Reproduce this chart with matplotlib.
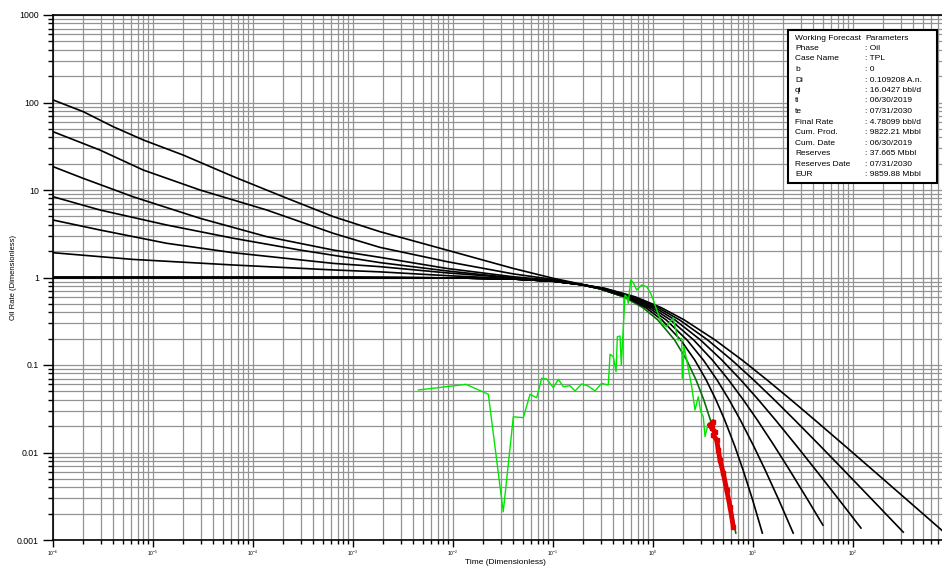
import matplotlib
matplotlib.use("Agg")
import matplotlib.pyplot as plt
from matplotlib.ticker import FixedLocator, LogLocator, FuncFormatter, NullFormatter, LogFormatterSciNotation
from matplotlib.patches import Rectangle

plt.rcParams['font.family'] = ['Liberation Sans', 'DejaVu Sans']

# ---- transient stems (t_D, q_D) ----
stem1_t = [1e-6, 2.01e-6, 4.0e-6, 8.0e-6, 2.0e-5, 6.4e-5, 2.0e-4, 6.4e-4, 1.86e-3, 8.65e-3, 0.040, 0.10, 0.186, 0.295, 0.468]
stem1_q = [107, 78.5, 52.9, 37.3, 25.1, 14.2, 8.38, 4.95, 3.34, 2.06, 1.27, 0.98, 0.845, 0.745, 0.626]
stem2_t = [1e-6, 2.95e-6, 8.0e-6, 2.95e-5, 1.37e-4, 6.35e-4, 1.86e-3, 8.65e-3, 0.040, 0.10, 0.186, 0.295, 0.468]
stem2_q = [46.4, 28.6, 16.9, 10.0, 5.91, 3.20, 2.21, 1.52, 1.10, 0.95, 0.84, 0.745, 0.626]
stem3_t = [1e-6, 2.0e-6, 6.3e-6, 2.95e-5, 1.37e-4, 6.35e-4, 1.86e-3, 8.65e-3, 0.040, 0.10, 0.186, 0.295, 0.468]
stem3_q = [18.5, 13.6, 8.38, 4.75, 2.93, 2.06, 1.70, 1.27, 1.02, 0.93, 0.835, 0.745, 0.626]
stem4_t = [1e-6, 2.95e-6, 1.37e-5, 6.35e-5, 2.95e-4, 1.86e-3, 8.65e-3, 0.040, 0.10, 0.186, 0.295, 0.468]
stem4_q = [8.38, 5.91, 3.98, 2.81, 2.06, 1.48, 1.19, 0.99, 0.92, 0.832, 0.745, 0.626]
stem5_t = [1e-6, 2.95e-6, 1.37e-5, 6.35e-5, 6.35e-4, 1.86e-3, 8.65e-3, 0.040, 0.10, 0.186, 0.295, 0.468]
stem5_q = [4.54, 3.49, 2.46, 1.92, 1.45, 1.33, 1.13, 0.99, 0.915, 0.83, 0.745, 0.626]
stem6_t = [1e-6, 6.3e-6, 6.35e-5, 6.35e-4, 1.86e-3, 8.65e-3, 0.040, 0.10, 0.186, 0.295, 0.468]
stem6_q = [1.92, 1.61, 1.39, 1.22, 1.16, 1.05, 0.97, 0.91, 0.83, 0.745, 0.626]

# ---- depletion curves: shared early part, then rate levels read per curve ----
trunk_t = [1e-6, 1e-3, 0.01, 0.04, 0.10, 0.20]
trunk_q = [1.0, 0.999, 0.99, 0.961, 0.907, 0.825]
fan_levels = [0.75, 0.6, 0.45, 0.327, 0.193, 0.114, 0.0674, 0.04, 0.0235, 0.012, 0.0063, 0.00286]
fan_t = [
    [0.288, 0.511, 0.799, 1.118, 1.645, 2.171, 2.697, 3.219, 3.751, 4.423, 5.067, 5.857, 6.725],
    [0.295, 0.533, 0.855, 1.229, 1.893, 2.615, 3.406, 4.261, 5.212, 6.541, 7.961, 9.926, 12.40],
    [0.302, 0.557, 0.915, 1.355, 2.191, 3.186, 4.371, 5.772, 7.475, 10.10, 13.24, 18.14, 25.23],
    [0.309, 0.582, 0.981, 1.497, 2.553, 3.923, 5.704, 8.000, 11.05, 16.26, 23.20, 35.40, 49.99],
    [0.317, 0.609, 1.055, 1.661, 2.991, 4.878, 7.556, 11.33, 16.79, 27.12, 42.47, 72.96, 120.1],
    [0.325, 0.637, 1.135, 1.847, 3.526, 6.127, 10.16, 16.35, 26.14, 46.66, 80.63, 156.9, 318.1],
    [0.333, 0.667, 1.222, 2.058, 4.181, 7.772, 13.84, 24.00, 41.55, 82.33, 157.7, 348.7, 729.0, 999.0],
]
fan_end_q = [[0.0012], [0.0012], [0.0012], [0.00148], [0.00137], [0.00123], [0.00137, 0.001]]
fan_colors = ['#0a6e0a', 'black', 'black', 'black', 'black', 'black', 'black']

# ---- production data (green) ----
prod_t = [4.50e-3, 0.0135, 0.02255, 0.0318, 0.0401, 0.0505, 0.0589, 0.0687, 0.0771, 0.0865,
          0.1007, 0.113, 0.1268, 0.148, 0.166, 0.1936, 0.2255, 0.263, 0.307, 0.357,
          0.372, 0.401, 0.427, 0.44, 0.468, 0.482, 0.525, 0.546, 0.566, 0.598,
          0.635, 0.687, 0.771, 0.865, 0.948, 1.007, 1.089, 1.222, 1.371, 1.479,
          1.596, 1.66, 1.791, 1.936, 1.963, 2.042, 2.173, 2.438, 2.63, 2.838,
          3.0, 3.184, 3.31, 3.573, 3.864]
prod_q = [0.0518, 0.0601, 0.0463, 0.0021, 0.0256, 0.0250, 0.0463, 0.0423, 0.0705, 0.0692,
          0.0551, 0.0687, 0.0565, 0.058, 0.0505, 0.0607, 0.0575, 0.0505, 0.0618, 0.059,
          0.1325, 0.1245, 0.0838, 0.2105, 0.2145, 0.1, 0.631, 0.604, 0.507, 0.936,
          0.873, 0.72, 0.821, 0.785, 0.66, 0.553, 0.425, 0.30, 0.274, 0.3125,
          0.342, 0.274, 0.193, 0.2018, 0.0705, 0.162, 0.114, 0.0565, 0.0306, 0.0434,
          0.0292, 0.0256, 0.0152, 0.0216, 0.0181]

# ---- forecast data (red) ----
fc_t = [3.715, 4.009, 3.864, 4.169, 4.009, 4.335, 4.498, 4.677, 5.047, 5.458, 5.888, 6.353]
fc_q = [0.0206, 0.0225, 0.0189, 0.0173, 0.0158, 0.0139, 0.0107, 0.0082, 0.00578, 0.00373, 0.0024, 0.00142]

# ---- axis ticks ----
x_major = [1e-6, 1e-5, 1e-4, 1e-3, 1e-2, 1e-1, 1e0, 1e1, 1e2]
y_major = [1e-3, 1e-2, 1e-1, 1e0, 1e1, 1e2, 1e3]

# ---- parameter box ----
param_names = ["Working Forecast", "Phase", "Case Name", "b", "Di", "qi", "ti", "te",
               "Final Rate", "Cum. Prod.", "Cum. Date", "Reserves", "Reserves Date", "EUR"]
param_values = ["Parameters", ": Oil", ": TPL", ": 0", ": 0.109208 A.n.", ": 16.0427 bbl/d",
                ": 06/30/2019", ": 07/31/2030", ": 4.78099 bbl/d", ": 9822.21 Mbbl",
                ": 06/30/2019", ": 37.665 Mbbl", ": 07/31/2030", ": 9859.88 Mbbl"]

fig = plt.figure(figsize=(9.42, 5.68), dpi=100)
ax = fig.add_axes([53/942, 28/568, 900/942, 525/568])
ax.set_xscale('log')
ax.set_yscale('log')
ax.set_xlim(1e-6, 1e3)
ax.set_ylim(1e-3, 1e3)

ax.xaxis.set_major_locator(FixedLocator(x_major))
ax.xaxis.set_minor_locator(LogLocator(base=10, subs=range(2, 10), numticks=20))
ax.yaxis.set_major_locator(FixedLocator(y_major))
ax.yaxis.set_minor_locator(LogLocator(base=10, subs=range(2, 10), numticks=20))
ax.yaxis.set_major_formatter(FuncFormatter(lambda v, p: f"{v:g}"))
ax.yaxis.set_minor_formatter(NullFormatter())
ax.xaxis.set_major_formatter(LogFormatterSciNotation())
ax.xaxis.set_minor_formatter(NullFormatter())

ax.grid(True, which='both', color='#939393', linewidth=0.9)
ax.set_axisbelow(True)

ax.tick_params(axis='y', which='major', direction='out', length=7.2, width=1, labelsize=6.3, pad=2.8)
ax.tick_params(axis='y', which='minor', direction='out', length=3.6, width=1)
ax.tick_params(axis='x', which='major', direction='out', length=5, width=1, labelsize=3.5, pad=1.5)
ax.tick_params(axis='x', which='minor', direction='out', length=3, width=1)
for s in ax.spines.values():
    s.set_linewidth(1.2)

for st, sq in [(stem1_t, stem1_q), (stem2_t, stem2_q), (stem3_t, stem3_q),
               (stem4_t, stem4_q), (stem5_t, stem5_q), (stem6_t, stem6_q)]:
    ax.plot(st, sq, color='black', lw=1.2, zorder=2)

for ft, eq, c in zip(fan_t, fan_end_q, fan_colors):
    ax.plot(trunk_t + ft, trunk_q + fan_levels + eq, color=c, lw=1.2, zorder=2)

ax.plot(prod_t, prod_q, color='#00e600', lw=1.0, zorder=3)
ax.plot(fc_t, fc_q, color='#e00000', lw=3.5, zorder=4, marker='s', markersize=3)

fig.text(505/942, 1 - 562/568, "Time (Dimensionless)", fontsize=6, ha='center', va='center')
fig.text(14/942, 1 - 278/568, "Oil Rate (Dimensionless)", fontsize=5.5, ha='center', va='center',
         rotation=90)

# parameter box
box = Rectangle((788/942, 1 - 183/568), 149/942, 153/568, transform=fig.transFigure,
                facecolor='white', edgecolor='black', linewidth=1.5, zorder=10)
fig.patches.append(box)
for i, (n, v) in enumerate(zip(param_names, param_values)):
    y = 1 - (38 + i * 10.5) / 568
    fig.text(795/942, y, n, fontsize=6, va='center', ha='left', zorder=11)
    fig.text(865/942, y, v, fontsize=6, va='center', ha='left', zorder=11)

fig.savefig("out.png", dpi=100)
